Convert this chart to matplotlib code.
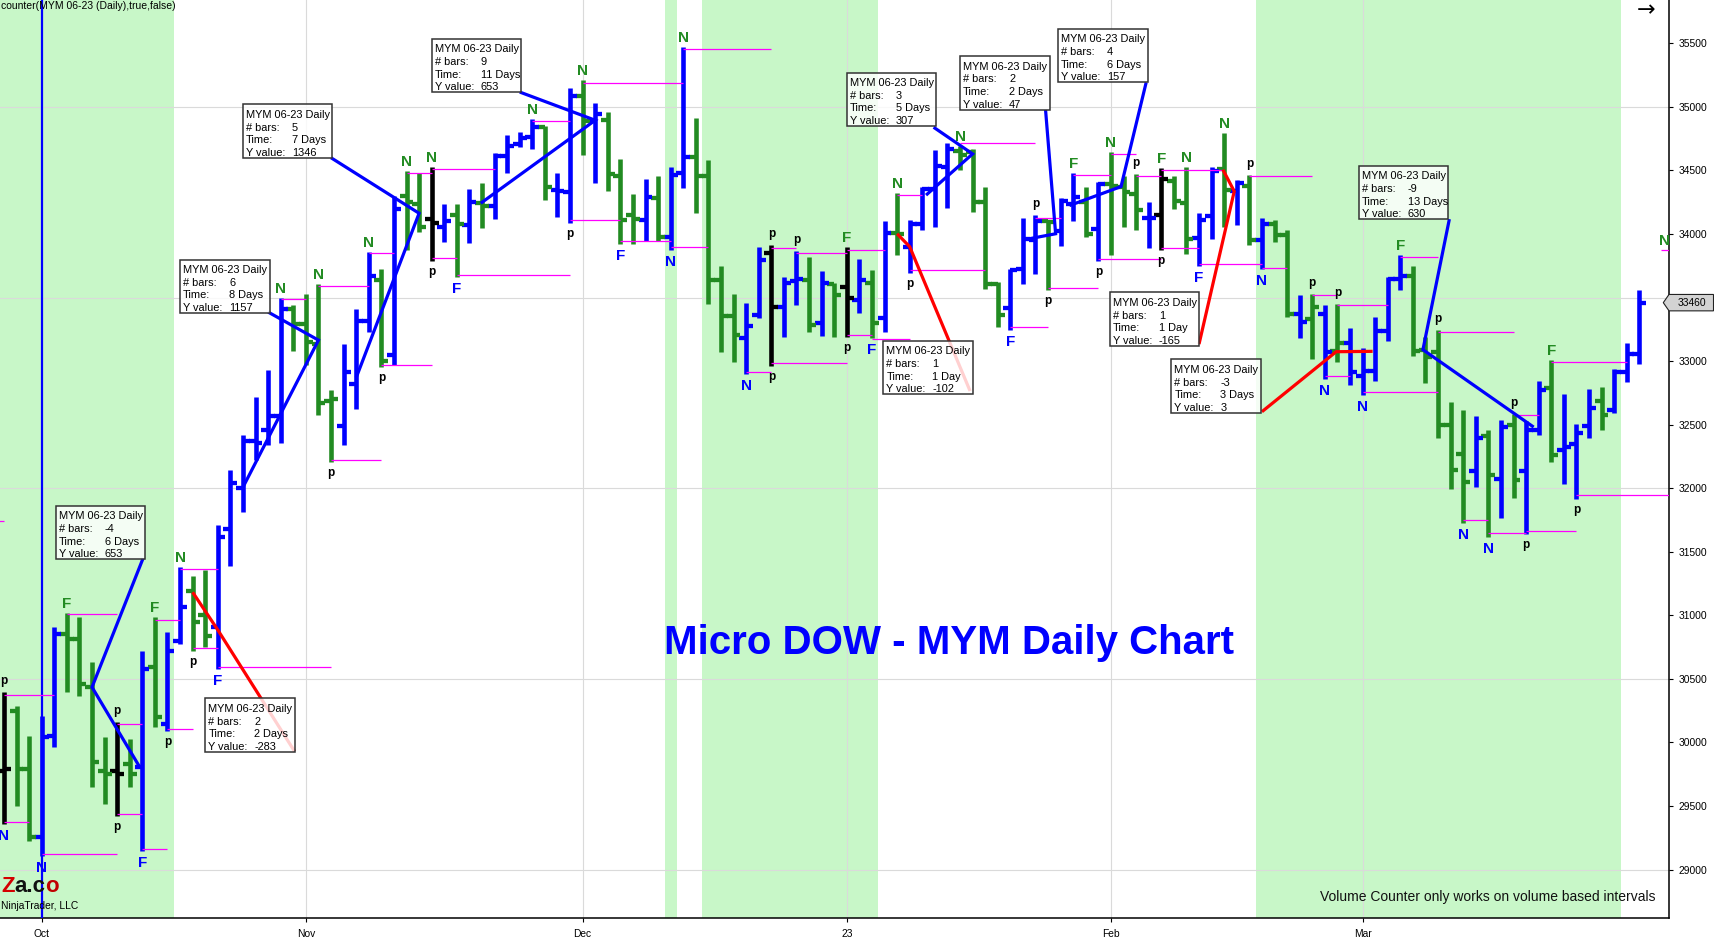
import matplotlib.pyplot as plt
import numpy as np
from matplotlib import font_manager
from matplotlib.patches import Rectangle, Polygon
from matplotlib.transforms import blended_transform_factory

plt.rcParams['font.family'] = ['Liberation Sans', 'DejaVu Sans']

# daily bars MYM 06-23, x = bar number (bar 3 = first session of October)
opens = [29779, 30251, 29792, 29260, 30054, 30854, 30815, 30435, 29779, 29779,
         29831, 29805, 30592, 30146, 30802, 31195, 30999, 30907, 31676, 32000,
         32369, 32460, 32565, 33410, 33289, 33138, 32686, 32490, 32822, 33319,
         33636, 33048, 34300, 34239, 34118, 34058, 34146, 34067, 34242, 34224,
         34616, 34707, 34760, 34838, 34347, 34328, 35086, 34890, 34898, 34459,
         34146, 34114, 34284, 33976, 34477, 34608, 34459, 33636, 33354, 33179,
         33362, 33853, 33422, 33631, 33636, 33296, 33605, 33584, 33484, 33615,
         33336, 34010, 33897, 34080, 34355, 34530, 34650, 34642, 34250, 33610,
         33414, 33727, 33950, 34099, 34023, 34237, 34250, 34041, 34394, 34368,
         34315, 34127, 34151, 34420, 34242, 33965, 34140, 34510, 34336, 34375,
         33949, 34080, 33990, 33369, 33330, 33369, 33082, 33139, 32886, 32925,
         33239, 33644, 33670, 33087, 33069, 32494, 32272, 32136, 32408, 32076,
         32494, 32136, 32455, 32789, 32303, 32350, 32486, 32685, 32617, 32912, 33056]
highs = [30395, 30290, 30054, 30212, 30907, 31017, 30986, 30631, 30041, 30159,
         30028, 30723, 30986, 30867, 31379, 31313, 31358, 31707, 32143, 32415,
         32716, 32927, 33500, 33440, 33530, 33606, 32776, 33138, 33410, 33862,
         33726, 34299, 34495, 34480, 34525, 34239, 34237, 34355, 34402, 34637,
         34778, 34799, 34903, 34851, 34480, 35152, 35209, 35034, 34963, 34592,
         34315, 34436, 34459, 34524, 35470, 34911, 34585, 33746, 33526, 33458,
         33897, 33910, 33662, 33866, 33819, 33709, 33618, 33897, 33806, 33714,
         34106, 34323, 34112, 34373, 34660, 34713, 34690, 34668, 34368, 33623,
         33727, 34125, 34146, 34112, 34284, 34477, 34368, 34407, 34642, 34459,
         34472, 34250, 34519, 34459, 34524, 34166, 34524, 34792, 34428, 34467,
         34127, 34109, 34028, 33521, 33531, 33440, 33453, 33257, 33100, 33348,
         33662, 33832, 33748, 33186, 33247, 32682, 32617, 32572, 32455, 32538,
         32585, 32528, 32847, 33009, 32742, 32502, 32781, 32800, 32938, 33139, 33557]
lows = [29359, 29504, 29228, 29110, 29963, 30395, 30369, 29648, 29517, 29425,
        29648, 29149, 30120, 30094, 30776, 30723, 30750, 30579, 31389, 31812,
        32219, 32339, 32354, 33078, 32972, 32580, 32204, 32339, 32626, 33229,
        32957, 32972, 33877, 34013, 33786, 33937, 33662, 33929, 34049, 34119,
        34480, 34681, 34668, 34268, 34132, 34088, 34618, 34399, 34342, 33918,
        33923, 33944, 33944, 33876, 34362, 34164, 33453, 33074, 32996, 32896,
        33343, 32962, 33192, 33440, 33231, 33197, 33192, 33187, 33375, 33179,
        33231, 33837, 33693, 34033, 34059, 34206, 34500, 34172, 33571, 33270,
        33244, 33610, 33683, 33558, 33905, 34101, 33976, 33785, 33832, 34054,
        34033, 33889, 33871, 34198, 33845, 33748, 33957, 34054, 34070, 33910,
        33722, 33936, 33348, 33181, 33017, 32860, 32990, 32813, 32737, 32842,
        33155, 33557, 33043, 32826, 32397, 31992, 31723, 32011, 31619, 31762,
        31927, 31637, 32416, 32207, 32037, 31919, 32397, 32460, 32591, 32834, 32977]
closes = [29790, 29792, 29260, 30041, 30854, 30815, 30461, 29845, 29753, 29753,
          29753, 30579, 30199, 30723, 31064, 30946, 30841, 31615, 32038, 32369,
          32354, 32565, 33410, 33289, 33153, 32671, 32701, 32912, 33319, 33666,
          33003, 34193, 34254, 34058, 34088, 34103, 34080, 34250, 34224, 34616,
          34694, 34754, 34843, 34368, 34342, 35086, 34890, 34948, 34472, 34112,
          34119, 34289, 33976, 34467, 34608, 34459, 33636, 33354, 33205, 33278,
          33798, 33427, 33615, 33649, 33283, 33618, 33518, 33500, 33636, 33296,
          34007, 33997, 34080, 34355, 34537, 34668, 34620, 34250, 33610, 33362,
          33714, 33963, 34099, 34093, 34263, 34289, 34002, 34394, 34380, 34328,
          34185, 34127, 34433, 34260, 33957, 34114, 34498, 34350, 34401, 33949,
          34080, 33990, 33369, 33304, 33422, 33069, 33139, 32912, 32925, 33239,
          33644, 33670, 33082, 33030, 32494, 32141, 32050, 32397, 32102, 32481,
          32063, 32460, 32774, 32259, 32324, 32434, 32632, 32580, 32912, 33056, 33460]
bar_colour = ("kggbbggggk" "gbgbbggbbb" "bbbggggbbb" "gbggkbgbgb" "bbbgbbgbgg"
              "gbgbbggggb" "bkbbgbgkbg" "bgbbbbgggg" "bbbgbbgbgg" "gbkggbbgbg"
              "bggbgbgbbb" "bbgggggbgb" "gbbgbbbgbbb")
last_price = 33460

month_pos = [3, 24, 46, 67, 88, 108]
month_names = ['Oct', 'Nov', 'Dec', '23', 'Feb', 'Mar']
price_ticks = [29000, 29500, 30000, 30500, 31000, 31500, 32000, 32500, 33000,
               34000, 34500, 35000, 35500]
grid_levels = [29000, 30500, 32000, 33500, 35000]

# green session shading, in bar numbers
shade_from = [-0.4, 52.54, 55.45, 99.53]
shade_to = [13.52, 53.5, 69.47, 128.55]

# swing markers above highs / below lows
top_bar = [0, 5, 9, 12, 14, 22, 25, 29, 32, 34, 42, 46, 54, 61, 63, 67, 71, 76, 82, 85,
           88, 90, 92, 94, 97, 99, 104, 106, 111, 114, 120, 123]
top_text = "pFpFNNNNNNNNNppFNNpFNpFNNpppFppF"
bot_bar = [0, 3, 9, 11, 13, 15, 17, 26, 30, 34, 36, 45, 49, 53, 59, 61, 67, 69, 72, 80,
           83, 87, 92, 95, 100, 105, 108, 116, 118, 121, 125]
bot_text = "NNpFppFpppFpFNNppFpFpppFNNNNNpp"

# magenta swing levels
lvl_from = [-0.4, 0, 0, 3, 5, 9, 9, 11, 12, 13, 14, 15, 17, 22, 25, 26, 29, 30, 32, 34,
            34, 36, 42, 45, 46, 49, 53, 54, 59, 61, 61, 63, 67, 67, 69, 71, 72, 76, 80, 82,
            83, 85, 87, 88, 90, 92, 92, 94, 95, 99, 100, 104, 106, 105, 108, 111, 114, 116,
            118, 120, 121, 123, 125, 131.7]
lvl_to = [0, 4, 2, 9, 9, 11, 11, 13, 14, 15, 17, 17, 26, 24, 29, 30, 31, 34, 34, 39,
          36, 45, 45, 49, 54, 53, 56, 61, 61, 63, 67, 67, 70, 69, 72, 73, 78, 82, 83, 84,
          87, 88, 92, 90, 92, 94, 95, 97, 100, 104, 102, 106, 110, 107, 114, 114, 120, 118,
          121, 122, 125, 129, 133, 133]
lvl_price = [31746, 30377, 29372, 29123, 31007, 30146, 29438, 29163, 30967, 30107,
             31366, 30744, 30595, 33490, 33590, 32219, 33853, 32972, 34480, 34513,
             33815, 33680, 34890, 34112, 35191, 33942, 33897, 35452, 32917, 33892,
             32983, 33850, 33876, 33205, 33171, 34308, 33720, 34715, 33265, 34127,
             33578, 34464, 33806, 34629, 34459, 34504, 33892, 34506, 33767, 34454,
             33735, 33518, 33440, 32881, 32761, 33819, 33226, 31749, 31645, 32578,
             31663, 32996, 31945, 33871]

# ruler drawings
rul_colour = ['b', 'r', 'b', 'b', 'b', 'b', 'r', 'b', 'b', 'r', 'r', 'b']
rul_bars = [-4, 2, 6, 5, 9, 3, 1, 2, 4, 1, -3, -9]
rul_time = ['6 Days', '2 Days', '8 Days', '7 Days', '11 Days', '5 Days', '1 Day',
            '2 Days', '6 Days', '1 Day', '3 Days', '13 Days']
rul_yval = [653, -283, 1157, 1346, 653, 307, -102, 47, 157, -165, 3, 630]
rul_x = [[11.06, 7.0, 10.8], [15.0, 17.0, 23.1], [21.0, 25.0, 19.0], [26.0, 33.0, 28.0],
         [41.0, 47.0, 37.9], [73.9, 77.0, 73.3], [71.0, 72.0, 76.8], [82.8, 83.6, 81.1],
         [90.8, 88.8, 84.7], [95.0, 97.8, 96.9], [100.0, 105.9, 108.8], [114.9, 112.8, 121.6]]
rul_y = [[31449, 30435, 29805], [31182, 30885, 29930], [33386, 33165, 32008],
         [34600, 34163, 32870], [35117, 34895, 34242], [34840, 34630, 34306],
         [34002, 33900, 32765], [34977, 34002, 33955], [35193, 34373, 34224],
         [33134, 34336, 34506], [32602, 33074, 33077], [34117, 33090, 32481]]
box_left = [4.12, 16.0, 14.0, 19.0, 34.0, 67.0, 69.9, 76.0, 83.8, 87.9, 92.8, 107.7]
box_top = [31862, 30347, 33799, 35021, 35537, 35270, 33161, 35399, 35615, 33541, 33015, 34538]

BLUE, GREEN, MAG = '#0000ff', '#228b22', '#ff00ff'
cmap = {'b': BLUE, 'g': GREEN, 'k': '#000000', 'r': '#ff0000'}

fig = plt.figure(figsize=(17.15, 9.46), dpi=100)
ax = fig.add_axes([0, 28 / 946, 1669 / 1715, 918 / 946])
ax.set_xlim(-0.315, 132.36)
ax.set_ylim(28619, 35841)
px_y = (35841 - 28619) / 918.0     # price units per pixel
px_x = 132.675 / 1669.0            # bars per pixel

for a, b in zip(shade_from, shade_to):
    ax.axvspan(a, b, color='#c8f7c8', lw=0, zorder=0)
for g in grid_levels:
    ax.axhline(g, color='#dadada', lw=0.8, zorder=0.5)
for m in month_pos[1:]:
    ax.axvline(m, color='#dadada', lw=0.8, zorder=0.5)
ax.axvline(month_pos[0], color=BLUE, lw=1.6, zorder=3.5)

# OHLC bars
x = np.arange(len(opens))
cols = [cmap[c] for c in bar_colour]
ax.vlines(x, lows, highs, colors=cols, lw=3.3, capstyle='butt', zorder=3)
ax.hlines(opens, x - 0.55, x, colors=cols, lw=3.1, capstyle='butt', zorder=3)
ax.hlines(closes, x, x + 0.55, colors=cols, lw=3.1, capstyle='butt', zorder=3)

ax.hlines(lvl_price, lvl_from, lvl_to, colors=MAG, lw=0.9, zorder=4)

# swing labels
for b, t in zip(top_bar, top_text):
    ax.annotate(t, (b, highs[b]), xytext=(0, 8 if t == 'p' else 5), textcoords='offset pixels',
                ha='center', va='baseline', fontweight='bold',
                fontsize=8.5 if t == 'p' else 11, color='black' if t == 'p' else GREEN, zorder=5)
for b, t in zip(bot_bar, bot_text):
    ax.annotate(t, (b, lows[b]), xytext=(0, -5), textcoords='offset pixels',
                ha='center', va='top', fontweight='bold',
                fontsize=8.5 if t == 'p' else 11, color='black' if t == 'p' else BLUE, zorder=5)
ax.annotate('N', (lvl_from[-1] + 0.3, lvl_price[-1]), xytext=(0, 5), textcoords='offset pixels',
            ha='center', va='baseline', fontweight='bold', fontsize=11, color=GREEN,
            clip_on=True, zorder=5)

# rulers with their info boxes
bw, bh = 89.5 * px_x, 53.5 * px_y
for k in range(len(rul_bars)):
    ax.plot(rul_x[k], rul_y[k], color=cmap[rul_colour[k]], lw=2.3,
            solid_capstyle='butt', solid_joinstyle='miter', zorder=5.5)
    l, t = box_left[k], box_top[k]
    ax.add_patch(Rectangle((l, t - bh), bw, bh, facecolor=(1, 1, 1, 0.82),
                           edgecolor='#333333', lw=1.1, zorder=6))
    rows = [('MYM 06-23 Daily', ''), ('# bars:', str(rul_bars[k])),
            ('Time:', rul_time[k]), ('Y value:', str(rul_yval[k]))]
    for r, (lab, val) in enumerate(rows):
        dy = -13.7 - 12.6 * r
        ax.annotate(lab, (l, t), xytext=(3, dy), textcoords='offset pixels',
                    ha='left', va='baseline', fontsize=7.9, zorder=7)
        if val:
            ax.annotate(val, (l, t), xytext=(49, dy), textcoords='offset pixels',
                        ha='left', va='baseline', fontsize=7.9, zorder=7)

# axes styling
for s in ['left', 'top']:
    ax.spines[s].set_visible(False)
for s in ['right', 'bottom']:
    ax.spines[s].set_linewidth(1.1)
ax.yaxis.tick_right()
ax.set_yticks(price_ticks)
ax.set_yticklabels([str(p) for p in price_ticks])
ax.tick_params(axis='y', length=3.2, width=0.8, pad=4, labelsize=7.4)
ax.set_xticks(month_pos)
ax.set_xticklabels(month_names)
ax.tick_params(axis='x', length=3, width=0.8, pad=5, labelsize=7.4)

# current price tag on the price axis
bt = blended_transform_factory(ax.transAxes, ax.transData)
hh = 8.2 * px_y
tag = Polygon([(1663.3 / 1669, last_price), (1.0, last_price + hh), (1713.5 / 1669, last_price + hh),
               (1713.5 / 1669, last_price - hh), (1.0, last_price - hh)], closed=True,
              transform=bt, facecolor='#d3d3d3', edgecolor='#222222', lw=0.8, clip_on=False, zorder=8)
ax.add_patch(tag)
ax.text(1691.5 / 1669, last_price, str(last_price), transform=bt, ha='center', va='center',
        fontsize=7.4, clip_on=False, zorder=9)

# texts
names = {f.name for f in font_manager.fontManager.ttflist}
if 'Liberation Sans Narrow' in names:
    tfam, tsize = ['Liberation Sans Narrow', 'DejaVu Sans'], 34.5
else:
    tfam, tsize = ['Liberation Sans', 'DejaVu Sans'], 29
ax.text(664.5 / 1669, (918 - 654) / 918, 'Micro DOW - MYM Daily Chart', transform=ax.transAxes,
        ha='left', va='baseline', fontsize=tsize, fontweight='bold', color=BLUE, family=tfam, zorder=9)
ax.text(1656 / 1669, (918 - 901) / 918, 'Volume Counter only works on volume based intervals',
        transform=ax.transAxes, ha='right', va='baseline', fontsize=10, color='#111111', zorder=9)
ax.text(1646 / 1669, 1 - 10 / 918, '\u2192', transform=ax.transAxes, ha='center', va='center',
        fontsize=16, family=['DejaVu Sans'], zorder=9)
fig.text(1 / 1715, 1 - 9 / 946, 'counter(MYM 06-23 (Daily),true,false)', ha='left', va='baseline',
         fontsize=7.5)

# logo
z = ax.text(1 / 1669, (918 - 897) / 918, 'Z', transform=ax.transAxes, ha='left', va='bottom',
            fontsize=16, fontweight='bold', color='#d40000', zorder=9)
z2 = ax.annotate('a.c', xy=(1, 0), xycoords=z, ha='left', va='bottom', fontsize=16,
                 fontweight='bold', color='#111111', zorder=9)
ax.annotate('o', xy=(1, 0), xycoords=z2, ha='left', va='bottom', fontsize=16,
            fontweight='bold', color='#c00000', zorder=9)
ax.text(1 / 1669, (918 - 909) / 918, 'NinjaTrader, LLC', transform=ax.transAxes, ha='left',
        va='baseline', fontsize=7.4, zorder=9)

fig.savefig('out.png', dpi=100)
